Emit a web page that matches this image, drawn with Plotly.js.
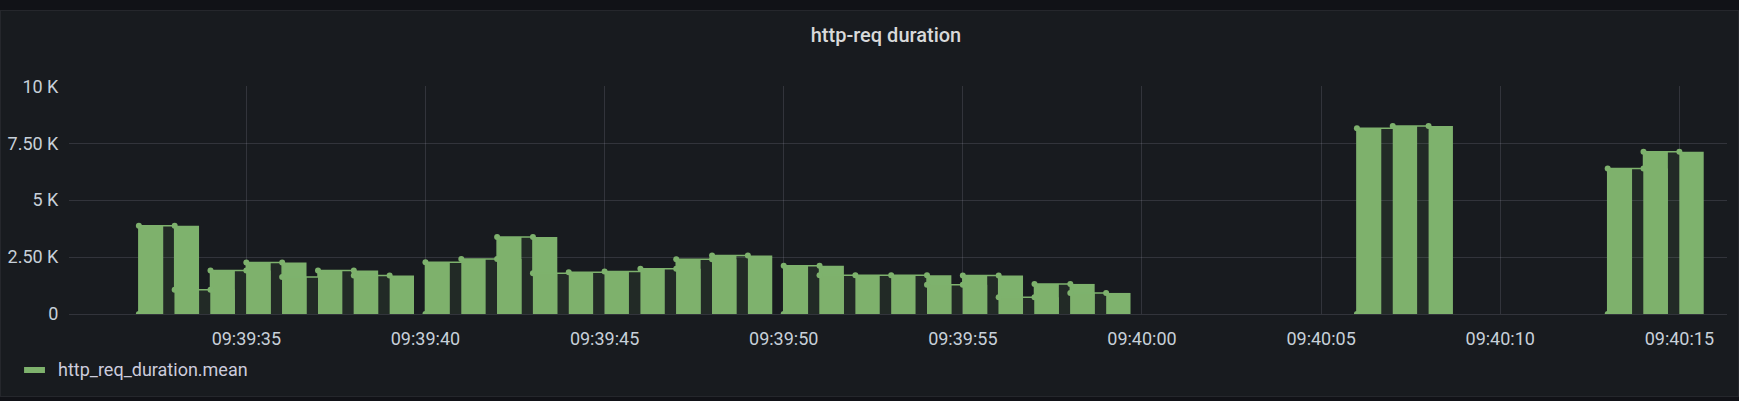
<!DOCTYPE html>
<html><head><meta charset="utf-8">
<script src="https://cdn.plot.ly/plotly-3.0.1.min.js"></script>
<style>
html,body{margin:0;padding:0;background:#111217;width:1739px;height:401px;overflow:hidden;}
#panel{position:absolute;left:0;top:10px;width:1739px;height:387px;box-sizing:border-box;border:1px solid #25272c;background:#181b1f;}
#chart{width:1737px;height:385px;}
</style></head><body>
<div id="panel"><div id="chart"></div></div>
<script>
const chartTitle = 'http-req duration';
const seriesName = 'http_req_duration.mean';
const day = '2023-01-01 ';
// sample times (duplicates = two samples in the same second; null rows = gaps)
const times = [
  '09:39:32','09:39:32','09:39:33','09:39:33','09:39:34','09:39:34','09:39:35','09:39:35',
  '09:39:36','09:39:36','09:39:37','09:39:38','09:39:38','09:39:39','09:39:39.5',
  '09:39:40','09:39:40','09:39:41','09:39:42','09:39:42','09:39:43','09:39:43','09:39:44',
  '09:39:45','09:39:46','09:39:47','09:39:47','09:39:48','09:39:48','09:39:49','09:39:49.5',
  '09:39:50','09:39:50','09:39:51','09:39:51','09:39:52','09:39:53','09:39:54','09:39:54',
  '09:39:55','09:39:55','09:39:56','09:39:56','09:39:57','09:39:57','09:39:58','09:39:58',
  '09:39:59','09:39:59.5',
  '09:40:06','09:40:06','09:40:07','09:40:08','09:40:08.5',
  '09:40:13','09:40:13','09:40:14','09:40:14','09:40:15'
];
const values = [
  0,3880,3880,1070,1070,1910,1910,2260,
  2260,1620,1910,1910,1690,1690,null,
  0,2270,2410,2410,3380,3380,1790,1835,
  1865,1990,1990,2400,2400,2570,2570,null,
  0,2120,2120,1700,1700,1700,1700,1280,
  1280,1690,1690,735,735,1320,1320,925,
  925,null,
  0,8160,8260,8260,null,
  0,6390,6390,7125,7125
];
const yTickVals = [0, 2500, 5000, 7500, 10000];
const yTickText = ['0', '2.50 K', '5 K', '7.50 K', '10 K'];
const xStart = '09:39:30.05', xEnd = '09:40:16.33';

const green = '#7eb26d';
const x = times.map(t => day + t);
const gridc = 'rgba(204,204,220,0.15)';
const tickFont = {family: 'Roboto, sans-serif', size: 18, color: '#c7d0d9'};

// split the series at null rows so each run is filled on its own
const segments = [];
let cur = {x: [], y: []};
values.forEach((v, i) => {
  if (v === null) { if (cur.x.length) segments.push(cur); cur = {x: [], y: []}; }
  else { cur.x.push(x[i]); cur.y.push(v); }
});
if (cur.x.length) segments.push(cur);

const traces = [
  {type: 'bar', x: x, y: values, width: 680, offset: 0,
   marker: {color: green, line: {width: 0}}, hoverinfo: 'skip', showlegend: false, name: seriesName}
];
segments.forEach(s => traces.push({
  type: 'scatter', mode: 'lines+markers', x: s.x, y: s.y,
  line: {shape: 'hv', color: green, width: 1.5},
  marker: {color: green, size: 6},
  fill: 'tozeroy', fillcolor: 'rgba(126,178,109,0.1)',
  hoverinfo: 'skip', showlegend: false, name: seriesName
}));

const layout = {
  width: 1737, height: 385,
  margin: {l: 68, r: 11, t: 75, b: 82},
  paper_bgcolor: '#181b1f', plot_bgcolor: '#181b1f',
  barmode: 'overlay', showlegend: false,
  title: {text: chartTitle, font: {family: 'Roboto, sans-serif', size: 20, color: '#d8d9da', weight: 500},
          x: 0.5095, xref: 'container', xanchor: 'center', y: 0.9377, yref: 'container', yanchor: 'middle'},
  xaxis: {type: 'date', range: [day + xStart, day + xEnd], dtick: 5000, tick0: day + '09:39:00',
          tickformat: '%H:%M:%S', showgrid: true, gridcolor: gridc, gridwidth: 1, zeroline: false, showline: false,
          ticks: 'outside', ticklen: 8, tickcolor: 'rgba(0,0,0,0)', tickfont: tickFont, fixedrange: true},
  yaxis: {range: [0, 10012], tickvals: yTickVals, ticktext: yTickText, showgrid: true, gridcolor: gridc,
          zeroline: true, zerolinecolor: gridc, zerolinewidth: 1, showline: false,
          ticks: 'outside', ticklen: 6, tickcolor: 'rgba(0,0,0,0)', tickfont: tickFont, fixedrange: true},
  shapes: [
    {type: 'rect', xref: 'paper', yref: 'paper', x0: -0.0271, x1: -0.0145, y0: -0.2588, y1: -0.2325,
     fillcolor: green, line: {width: 0}, layer: 'above'}
  ],
  annotations: [
    {text: seriesName, xref: 'paper', yref: 'paper', x: -0.0078, y: -0.2456, xanchor: 'left', yanchor: 'middle',
     showarrow: false, font: {family: 'Roboto, sans-serif', size: 18, color: '#ccccdc'}}
  ]
};
Plotly.newPlot('chart', traces, layout, {displayModeBar: false, staticPlot: true});
</script>
</body></html>
